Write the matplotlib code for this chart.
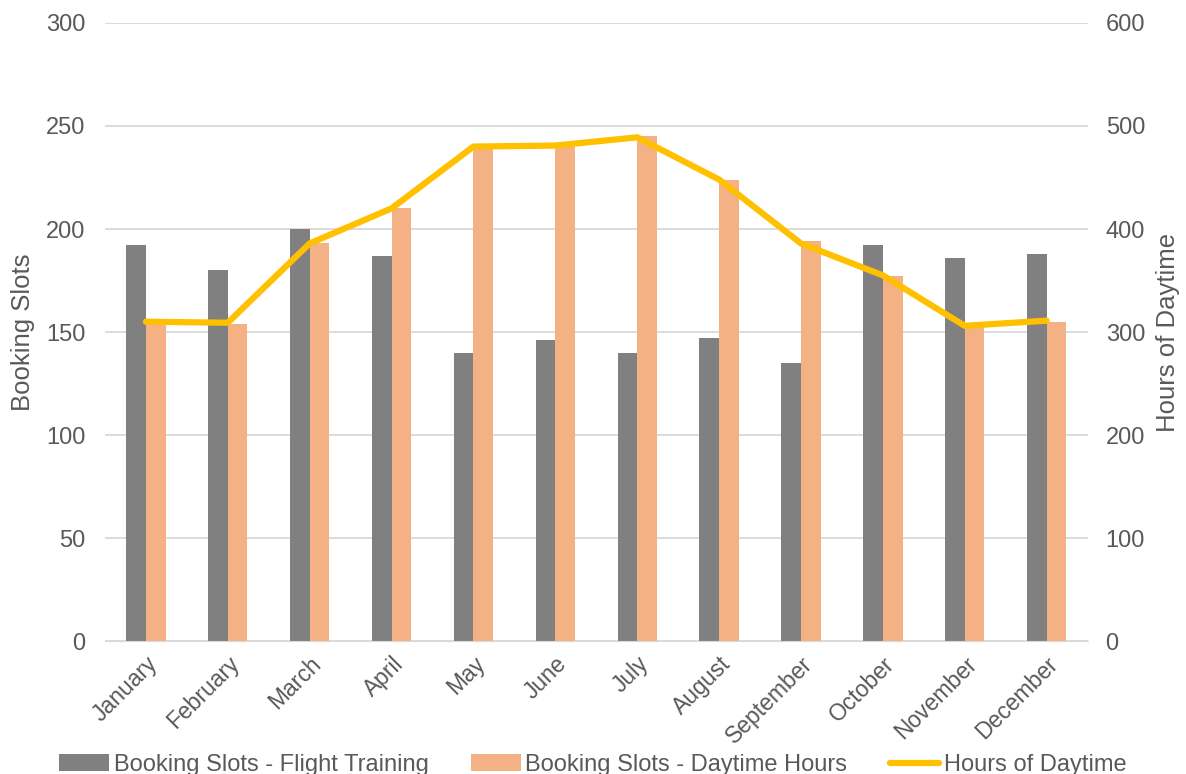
import matplotlib.pyplot as plt
import numpy as np

plt.rcParams['font.family'] = ['Liberation Sans', 'DejaVu Sans']

months = ["January", "February", "March", "April", "May", "June",
          "July", "August", "September", "October", "November", "December"]
flight_training = [192, 180, 200, 187, 140, 146, 140, 147, 135, 192, 186, 188]
daytime_slots = [155, 154, 193, 210, 240, 240, 245, 224, 194, 177, 154, 155]
daytime_hours = [310, 309, 386, 420, 480, 481, 489, 448, 386, 355, 306, 311]

txt = '#595959'
fig = plt.figure(figsize=(11.86, 7.74), dpi=100)
ax = fig.add_axes([0.0885, 0.1718, 0.8285, 0.7985])
ax2 = ax.twinx()

x = np.arange(len(months))
w = 0.24
ax.bar(x - w / 2, flight_training, w, color='#808080', label='Booking Slots - Flight Training', zorder=2)
ax.bar(x + w / 2, daytime_slots, w, color='#f4b183', label='Booking Slots - Daytime Hours', zorder=2)
ax2.plot(x, daytime_hours, color='#ffc000', lw=4.5, solid_capstyle='round',
         label='Hours of Daytime', zorder=3)

ax.set_xlim(-0.5, 11.5)
ax.set_ylim(0, 300)
ax2.set_ylim(0, 600)
ax.set_yticks(range(0, 301, 50))
ax2.set_yticks(range(0, 601, 100))
ax.set_xticks(x)
ax.set_xticklabels(months, rotation=45, ha='right', rotation_mode='anchor')
ax.grid(axis='y', color='#d9d9d9', lw=1.3, zorder=0)
ax.set_axisbelow(True)

for a in (ax, ax2):
    for s in a.spines.values():
        s.set_visible(False)
    a.tick_params(length=0, labelsize=17, colors=txt)
ax.spines['bottom'].set_visible(True)
ax.spines['bottom'].set_color('#d9d9d9')
ax.tick_params(axis='y', pad=14)
ax2.tick_params(axis='y', pad=13)
ax.tick_params(axis='x', pad=8, labelsize=16.5)

ax.set_ylabel('Booking Slots', fontsize=18.5, color=txt, labelpad=8)
ax2.set_ylabel('Hours of Daytime', fontsize=18.5, color=txt, labelpad=8)

h1, l1 = ax.get_legend_handles_labels()
h2, l2 = ax2.get_legend_handles_labels()
fig.legend(h1 + h2, l1 + l2, loc='lower center', ncol=3, frameon=False,
           fontsize=17, labelcolor=txt, bbox_to_anchor=(0.5, -0.03),
           handlelength=2.1, handleheight=0.75, handletextpad=0.2, columnspacing=1.8)

fig.savefig('out.png', dpi=100)
